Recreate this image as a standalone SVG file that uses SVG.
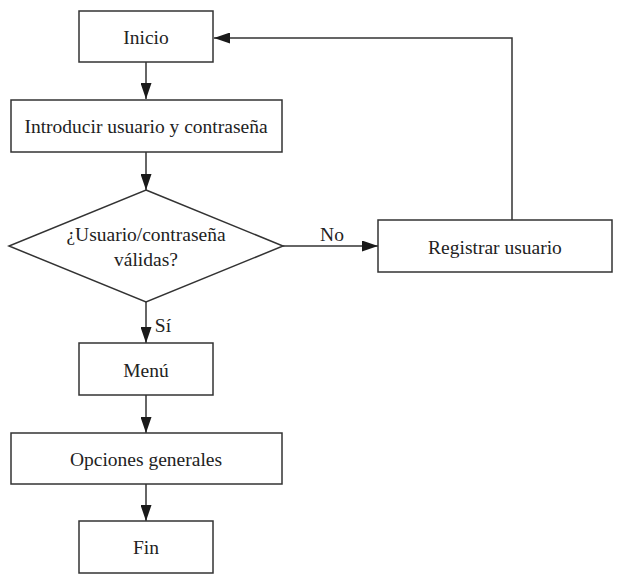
<svg xmlns="http://www.w3.org/2000/svg" width="640" height="574" viewBox="0 0 640 574">
  <style>
    .box { fill: #ffffff; stroke: #333333; stroke-width: 1.5; }
    .edge { fill: none; stroke: #333333; stroke-width: 1.5; }
    .lbl { font-family: "Liberation Serif", "Times New Roman", serif; font-size: 19.5px; fill: #222222; text-anchor: middle; dominant-baseline: central; }
  </style>
  <defs>
    <marker id="arrow" viewBox="0 0 16 11" refX="16" refY="5.5" markerWidth="16" markerHeight="11" markerUnits="userSpaceOnUse" orient="auto">
      <path d="M0,0 L16,5.5 L0,11 Z" fill="#1a1a1a"/>
    </marker>
  </defs>
  <rect width="640" height="574" fill="#ffffff"/>

  <g id="connectors">
    <line class="edge" x1="146" y1="62" x2="146" y2="99" marker-end="url(#arrow)"/>
    <line class="edge" x1="146" y1="152" x2="146" y2="190" marker-end="url(#arrow)"/>
    <line class="edge" x1="283" y1="246" x2="378" y2="246" marker-end="url(#arrow)"/>
    <text class="lbl" x="332" y="234">No</text>
    <line class="edge" x1="146" y1="302" x2="146" y2="343" marker-end="url(#arrow)"/>
    <text class="lbl" x="163" y="325">Sí</text>
    <line class="edge" x1="146" y1="395" x2="146" y2="433" marker-end="url(#arrow)"/>
    <line class="edge" x1="146" y1="484" x2="146" y2="521" marker-end="url(#arrow)"/>
    <polyline class="edge" points="512,220 512,38 214,38" marker-end="url(#arrow)"/>
  </g>

  <g id="inicio">
    <rect class="box" x="79" y="11" width="134" height="51"/>
    <text class="lbl" x="146" y="37">Inicio</text>
  </g>
  <g id="introducir">
    <rect class="box" x="11" y="100" width="271" height="52"/>
    <text class="lbl" x="146" y="126">Introducir usuario y contraseña</text>
  </g>
  <g id="validar">
    <polygon class="box" points="146,190 283,246 146,302 9,246"/>
    <text class="lbl" x="146" y="234">¿Usuario/contraseña</text>
    <text class="lbl" x="146" y="259">válidas?</text>
  </g>
  <g id="registrar">
    <rect class="box" x="378" y="220" width="234" height="52"/>
    <text class="lbl" x="495" y="247">Registrar usuario</text>
  </g>
  <g id="menu">
    <rect class="box" x="79" y="343" width="134" height="52"/>
    <text class="lbl" x="146" y="370">Menú</text>
  </g>
  <g id="opciones">
    <rect class="box" x="11" y="433" width="271" height="51"/>
    <text class="lbl" x="146" y="459">Opciones generales</text>
  </g>
  <g id="fin">
    <rect class="box" x="79" y="521" width="134" height="52"/>
    <text class="lbl" x="146" y="547">Fin</text>
  </g>
</svg>
